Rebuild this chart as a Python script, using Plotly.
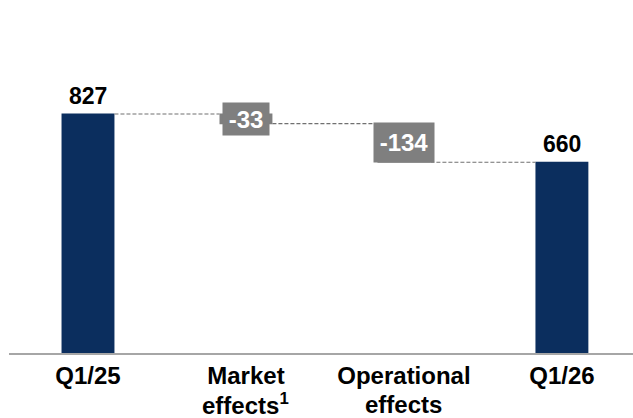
import plotly.graph_objects as go

categories = ["Q1/25", "Market", "Operational", "Q1/26"]
categories_line2 = ["", "effects<sup>1</sup>", "effects", ""]
measures = ["absolute", "relative", "relative", "total"]
values = [827, -33, -134, 660]
labels = ["827", "-33", "-134", "660"]

NAVY = "#0B2E5E"
GRAY = "#7F7F7F"
FONT = "Liberation Sans, Arial, sans-serif"

x_idx = list(range(len(categories)))

fig = go.Figure()
fig.add_trace(go.Waterfall(
    x=x_idx,
    y=[v if m != "total" else 0 for v, m in zip(values, measures)],
    measure=measures,
    width=[0.335] * len(values),
    totals=dict(marker=dict(color=NAVY, line=dict(width=0))),
    decreasing=dict(marker=dict(color=GRAY, line=dict(width=0))),
    increasing=dict(marker=dict(color=GRAY, line=dict(width=0))),
    connector=dict(mode="between", line=dict(color="#707070", width=1.2, dash="4px,2px")),
    textinfo="none",
    hoverinfo="skip",
))

# running levels
levels = []
run = 0
for v, m in zip(values, measures):
    if m == "absolute":
        start, run = 0, v
    elif m == "relative":
        start, run = run, run + v
    else:
        start = 0
    levels.append((start, run))

annotations = []
for i, (m, lab) in enumerate(zip(measures, labels)):
    start, end = levels[i]
    if m in ("absolute", "total"):
        annotations.append(dict(
            x=i, y=end, text=f"<b>{lab}</b>", showarrow=False,
            yanchor="bottom", yshift=3,
            font=dict(family=FONT, size=23, color="black"),
        ))
    else:
        mid = (start + end) / 2
        w, h = (46, 32) if abs(values[i]) < 100 else (60, 39)
        annotations.append(dict(
            x=i, y=mid, text=f"<b>{lab}</b>", showarrow=False,
            yanchor="middle", xanchor="center",
            width=w, height=h, bgcolor=GRAY, borderpad=0,
            font=dict(family=FONT, size=24, color="white"),
        ))

# second line of the category labels
for i, t in enumerate(categories_line2):
    if t:
        annotations.append(dict(
            x=i, xref="x", y=-0.178, yref="paper", text=f"<b>{t}</b>",
            showarrow=False, yanchor="middle", xanchor="center",
            font=dict(family=FONT, size=24, color="black"),
        ))

fig.update_layout(
    width=633, height=418,
    margin=dict(l=9, r=0, t=64, b=65),
    paper_bgcolor="white", plot_bgcolor="white",
    showlegend=False,
    annotations=annotations,
    xaxis=dict(
        tickmode="array", tickvals=x_idx, ticktext=[f"<b>{c}</b>" for c in categories],
        range=[-0.5, 3.45], showgrid=False, zeroline=False,
        showline=True, linecolor="#A6A6A6", linewidth=2,
        ticks="", ticklen=0,
        tickfont=dict(family=FONT, size=24, color="black"),
        fixedrange=True, automargin=False,
    ),
    yaxis=dict(range=[0, 1000], visible=False, showgrid=False, zeroline=False, fixedrange=True),
)

fig.write_html(
    "out.html",
    config={"displayModeBar": False, "staticPlot": True},
    post_script="document.body.style.margin='0';document.body.style.padding='0';",
)
